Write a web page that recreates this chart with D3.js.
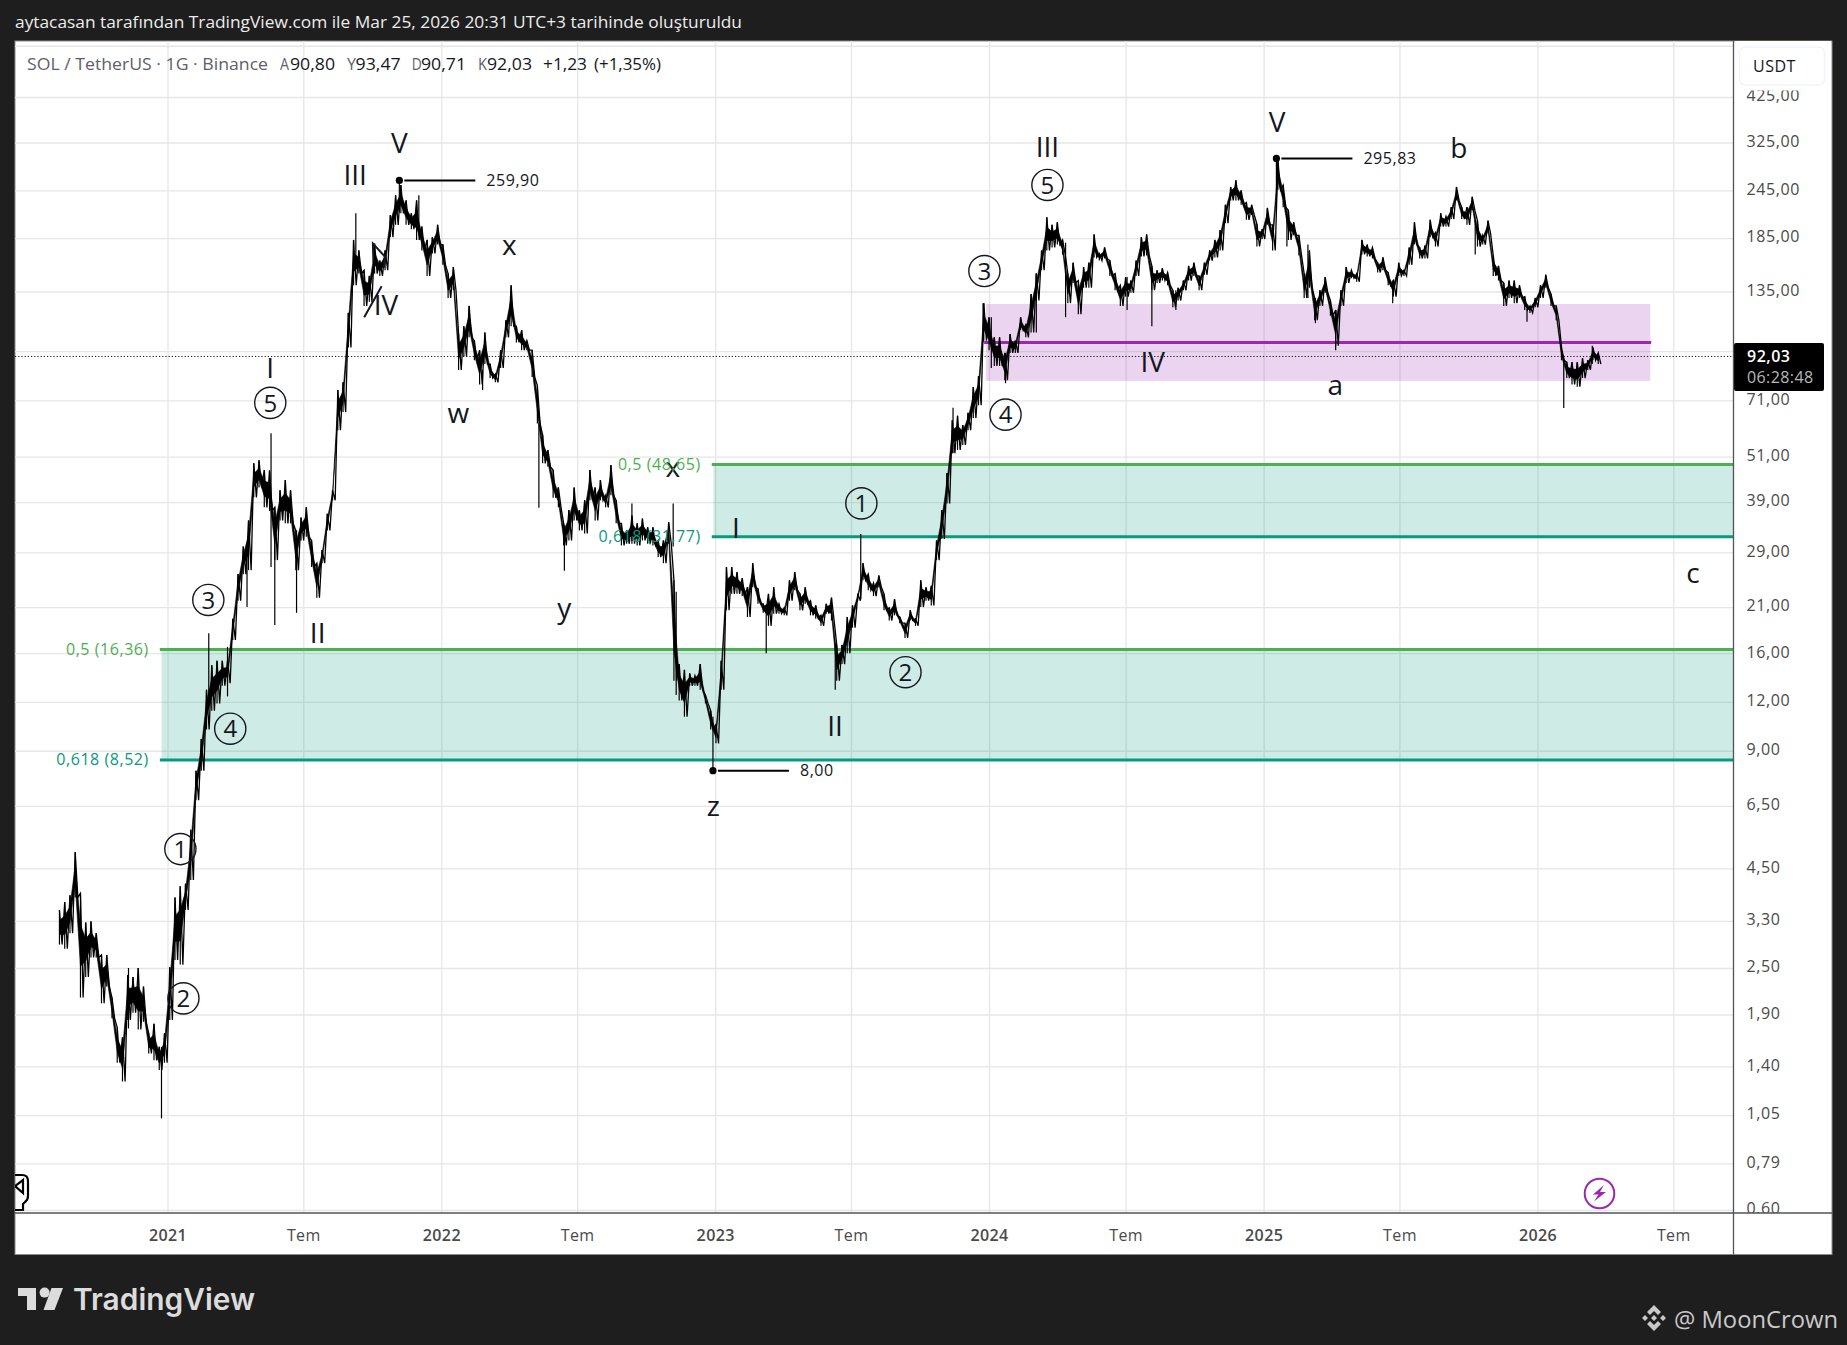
<!DOCTYPE html>
<html><head><meta charset="utf-8">
<script src="https://cdn.jsdelivr.net/npm/d3@7"></script>
<style>html,body{margin:0;padding:0;background:#1e1e1e}svg{display:block}</style></head>
<body><svg id="c" width="1847" height="1345"></svg>
<script>
// ---------- data ----------
const firstBarDate = "2020-08-10"; // one high/low pair per week from here on
const weeklyHigh = [
3.52,3.69,3.84,4.95,3.88,3.27,3.29,3.07,2.70,2.70,
2.10,1.76,1.66,2.40,2.37,2.50,2.24,1.70,1.80,1.57,
1.70,2.51,3.79,4.05,4.11,5.65,8.0,9.65,12.9,14.9,
15.3,15.3,15.3,19.6,25.5,30,35,49,49.9,47.1,
47,37.8,41.8,44.4,41.8,33,35.6,37.8,31.1,27.2,
29.4,36.4,41.8,75.5,79,119,183,172,153,148,
179,162,172,212,238,253,231,214,231,198,
183,186,200,178,150,156,105,110,124,101,
95.5,106,88,83,95.5,114,140,110,107.5,101,
95.5,77.5,58,53,47.1,42.5,34.4,37.2,42.5,37.2,
39.4,47.1,42.5,44.4,40.6,48.5,39.4,34.4,33,36,
34.4,35.4,33.6,33.6,31.1,31.1,34.6,24.6,15,14.5,
14.2,14,15,12.5,11.4,10.5,15.3,26.6,26.6,25.8,
24.9,23.6,27.2,23.4,21.4,22.7,23.6,21.4,20.9,24.6,
25.8,22.7,23.6,21.8,21.2,20,21.4,22.2,16.8,16.8,
19.8,21.2,22.7,27.2,25.5,24.2,25.3,22.7,20.9,22,
19.8,19.1,20.6,19.6,24.6,23.6,23.8,31.1,37.2,46.3,
63.2,64.9,61.4,66,76.9,82,126,116,103,103,
94,105,101,116,111,133,150,172,209,200,
203,183,150,160,144,156,160,189,169,175,
162,150,140,147,144,162,186,189,157,153,
155,151,136,138,144,157,160,148,160,172,
183,194,225,250,260,245,228,225,201,195,
221,200,293,253,218,203,188,150,172,130,
136,147,128,121,136,156,153,150,183,178,
175,160,165,151,144,160,153,175,203,175,
177,206,191,214,210,222,250,222,222,236,
205,188,205,167,157,142,144,144,140,131,
124,130,140,149,133,124,97,89,89,89,
91,90,97,94];
const weeklyLow = [
2.87,2.80,3.07,3.79,2.10,2.37,2.66,2.66,2.03,2.24,
1.86,1.43,1.28,1.84,1.92,1.74,1.82,1.51,1.45,1.37,
1.43,1.84,2.62,2.55,3.52,4.20,6.72,8.0,10.2,11.4,
11.9,13.2,13.4,17.3,21.8,25.5,26.1,40.1,42.5,37.8,
37,27.7,35,34.4,34.4,26.1,31.1,31.8,26.6,22.2,
27.2,33,39.4,59.6,66.3,97,140,150,124,127,
150,148,153,186,200,214,200,195,183,172,
148,169,178,158,130,136,85,92,103,90,
78,88,81,79,86,103,110,100,95.5,95.5,
81.5,62,49,48,40,37.8,30.2,31.1,35,33,
32.4,39.4,35,39.4,37.8,40.6,34.4,30.2,30.5,30.5,
30.2,31.1,30.5,30.2,28.2,27.2,30.5,13.6,12.1,11,
13.2,13.2,12.9,11.9,10.2,9.4,12.9,20.6,22.7,22.7,
22.4,19.8,23.6,21.4,20.3,18.8,20.2,20.2,20,21.8,
23.2,20.6,21.4,20,19.6,18.8,20.2,19.4,13.6,15,
16,18.6,21.8,24.6,23.2,22.4,23.6,20.6,19.4,20,
19.1,17.5,19.4,18.8,21,21.8,21.2,27.7,31.4,38.7,
52,53,54.6,59.6,64,69,101,95.5,87,87,
80,94,94,107.5,103,106,128,153,172,175,
178,168,126,142,118,138,138,165,162,164,
148,136,124,131,134,148,166,167,136,142,
144,140,123,128,136,144,148,136,149,162,
165,172,202,231,231,225,206,212,176,184,
200,172,246,222,183,188,167,130,138,114,
124,134,117,98,124,142,146,143,168,166,
164,151,153,140,131,148,148,158,178,164,
164,186,176,198,198,207,231,207,200,218,
176,178,190,148,144,124,130,126,130,121,
119,123,130,138,124,114,90,81,78,77,
81,85,90,88];
const wickDates = ["2020-11-10","2020-12-24","2021-02-25","2021-03-22","2021-04-17","2021-05-19","2021-05-24","2021-06-22","2021-09-09","2021-11-06","2021-12-02","2022-02-25","2022-05-11","2022-06-14","2022-09-12","2022-11-06","2022-11-10","2022-12-29","2023-03-10","2023-06-10","2023-07-14","2023-11-14","2023-12-24","2024-01-04","2024-01-23","2024-03-04","2024-04-12","2024-07-03","2024-08-05","2024-09-06","2025-01-18","2025-02-01","2025-03-01","2025-03-11","2025-04-07","2025-06-22","2025-10-10","2025-12-18","2026-02-05","2026-03-15"];
const wickHigh = [2.5,1.57,18,16.6,28,58.5,37,33,214,259.9,238,85,62,34,38.7,38.7,23,11,20.6,17,32.3,68,126,116,94,150,180,147,155,136,295.83,218,178,130,121,144,205,122,90,98];
const wickLow = [1.75,1.03,11.8,12.4,21,26.6,18.9,20.3,158,215,190,75.5,37.7,26,31,30,12.5,8.0,16,12.9,22,52,100,86,78.6,106,116,121,110,121,230,176,130,112,95.5,126,168,113,67.9,88];

const priceTicks = [575,425,325,245,185,135,95,71,51,39,29,21,16,12,9,6.5,4.5,3.3,2.5,1.9,1.4,1.05,0.79,0.6];
const hiddenPriceLabels = [575,95];
const timeTicks = ["2021-01-01","2021-07-01","2022-01-01","2022-07-01","2023-01-01","2023-07-01","2024-01-01","2024-07-01","2025-01-01","2025-07-01","2026-01-01","2026-07-01"];
const timeLabels = ["2021","Tem","2022","Tem","2023","Tem","2024","Tem","2025","Tem","2026","Tem"];

const lastPrice = 92.03;
const fibPrices = [16.36, 8.52, 48.65, 31.77];
const fibTexts = ["0,5 (16,36)","0,618 (8,52)","0,5 (48,65)","0,618 (31,77)"];
const fibStarts = [2020.972, 2020.972, 2022.986, 2022.986];
const purpleZone = [125.4, 79.7, 2023.987, 2026.411];
const purpleLine = [100, 2023.98, 2026.414];

const peakNotes = [["2021-11-06",259.90,"259,90"],["2025-01-18",295.83,"295,83"],["2022-12-29",8.00,"8,00"]];

const waveText = ["V","III","IV","x","w","y","x","I","z","I","II","II","III","IV","V","a","b","c"];
const waveYear = [2021.846,2021.685,2021.797,2022.247,2022.061,2022.448,2022.844,2023.074,2022.992,2021.375,2021.548,2023.436,2024.211,2024.595,2025.049,2025.261,2025.712,2026.567];
const wavePrice = [323.5,268,125,175,65,20.6,47.3,33.5,6.4,86,18,10.4,316,89,368,76.5,314,25.2];

const circleText = ["1","2","3","4","5","1","2","3","4","5"];
const circleYear = [2021.047,2021.058,2021.149,2021.229,2021.375,2023.532,2023.693,2023.981,2024.058,2024.211];
const circlePrice = [5.04,2.09,21.9,10.25,70,38.7,14.3,152.3,65.3,253];

const legendTexts = ["SOL / TetherUS · 1G · Binance","A","90,80","Y","93,47","D","90,71","K","92,03","+1,23","(+1,35%)"];

// ---------- layout ----------
const L=15, T=41, PR=1733.5, PB=1213, R=1832, B=1254.5;
const FONT='"Open Sans",sans-serif';
const svg=d3.select("#c");
const x=d3.scaleUtc().domain([new Date("2021-01-01"),new Date("2026-01-01")]).range([167.5,1537.5]);
const y=d3.scaleLog().domain([325,0.6]).range([142.5,1210]);
const yrDate=v=>new Date(Date.UTC(2021,0,1)+(v-2021)*365.25*864e5);
const X=v=>x(yrDate(v));
const comma=v=>d3.format(".2f")(v).replace(".",",");

svg.append("rect").attr("width",1847).attr("height",1345).attr("fill","#1e1e1e");
svg.append("rect").attr("x",L).attr("y",T).attr("width",R-L).attr("height",B-T).attr("fill","#fff").attr("stroke","#8a8a8a").attr("stroke-width",1);
const defs=svg.append("defs");
defs.append("clipPath").attr("id","pane").append("rect").attr("x",L).attr("y",T).attr("width",PR-L).attr("height",PB-T);
defs.append("clipPath").attr("id","scale").append("rect").attr("x",PR).attr("y",T).attr("width",R-PR).attr("height",PB-T);

// title bar
svg.append("text").attr("x",15).attr("y",28).attr("fill","#ececec").attr("font-family",FONT).attr("font-size",16).attr("textLength",727).attr("lengthAdjust","spacingAndGlyphs")
 .text("aytacasan tarafından TradingView.com ile Mar 25, 2026 20:31 UTC+3 tarihinde oluşturuldu");

const pane=svg.append("g").attr("clip-path","url(#pane)");

// grids via axes
const gridCol="#e6e6e6";
const gy=pane.append("g").attr("transform",`translate(${L},0)`).call(d3.axisRight(y).tickValues(priceTicks).tickSize(PR-L).tickFormat(""));
gy.select(".domain").remove(); gy.selectAll("line").attr("stroke",gridCol).attr("stroke-width",1.3);
const tickDates=timeTicks.map(d=>new Date(d));
const gx=pane.append("g").attr("transform",`translate(0,${T})`).call(d3.axisBottom(x).tickValues(tickDates).tickSize(PB-T).tickFormat(""));
gx.select(".domain").remove(); gx.selectAll("line").attr("stroke",gridCol).attr("stroke-width",1.3);

// fib zones
[[0,1],[2,3]].forEach(([a,b])=>{
  const xs=X(fibStarts[a]);
  pane.append("rect").attr("x",xs+1.7).attr("y",y(fibPrices[a])).attr("width",PR-xs).attr("height",y(fibPrices[b])-y(fibPrices[a])).attr("fill","#089981").attr("fill-opacity",0.2);
  [[a,"#4caf50"],[b,"#089981"]].forEach(([i,c])=>{
    pane.append("line").attr("x1",xs).attr("x2",PR).attr("y1",y(fibPrices[i])).attr("y2",y(fibPrices[i])).attr("stroke",c).attr("stroke-width",3);
    svg.append("text").attr("x",xs-11).attr("y",y(fibPrices[i])).attr("dy","0.33em").attr("text-anchor","end").attr("fill",c).attr("font-family",FONT).attr("font-size",16).attr("letter-spacing",0.55).text(fibTexts[i]);
  });
});
// purple zone
pane.append("rect").attr("x",X(purpleZone[2])).attr("y",y(purpleZone[0])).attr("width",X(purpleZone[3])-X(purpleZone[2])).attr("height",y(purpleZone[1])-y(purpleZone[0])).attr("fill","#9c27b0").attr("fill-opacity",0.2);
pane.append("line").attr("x1",X(purpleLine[1])).attr("x2",X(purpleLine[2])).attr("y1",y(purpleLine[0])).attr("y2",y(purpleLine[0])).attr("stroke","#9c27b0").attr("stroke-width",3);

// last price line
pane.append("line").attr("x1",L).attr("x2",PR).attr("y1",y(lastPrice)).attr("y2",y(lastPrice)).attr("stroke","#131722").attr("stroke-width",1).attr("stroke-dasharray","1.2,2");

// price series: a thin solid core, then a saw-tooth through each week's high and low
const t0=new Date(firstBarDate).getTime();
const bars=weeklyHigh.map((h,i)=>({d:new Date(t0+i*7*864e5),h,l:weeklyLow[i]}));
const core=0.3;
pane.append("path").datum(bars).attr("fill","#000").attr("stroke","#000").attr("stroke-width",0.6)
 .attr("d",d3.area().x(d=>x(d.d)).y0(d=>y(d.l)+(y(d.h)-y(d.l))*core).y1(d=>y(d.h)-(y(d.h)-y(d.l))*core));
const saw=bars.flatMap(b=>[{d:b.d,v:b.h},{d:new Date(b.d.getTime()+3.5*864e5),v:b.l}]);
pane.append("path").datum(saw).attr("fill","none").attr("stroke","#000").attr("stroke-width",1.3).attr("stroke-linejoin","miter")
 .attr("d",d3.line().x(d=>x(d.d)).y(d=>y(d.v)));
pane.append("g").selectAll("line").data(bars).join("line")
 .attr("x1",d=>x(d.d)).attr("x2",d=>x(d.d)).attr("y1",d=>y(d.h)).attr("y2",d=>y(d.l)).attr("stroke","#000").attr("stroke-width",1.2);
pane.append("g").selectAll("line").data(wickDates).join("line")
 .attr("x1",d=>x(new Date(d))).attr("x2",d=>x(new Date(d)))
 .attr("y1",(d,i)=>y(wickHigh[i])).attr("y2",(d,i)=>y(wickLow[i]))
 .attr("stroke","#000").attr("stroke-width",1.2);

// peak notes
peakNotes.forEach(([d,p,t])=>{
  const px=x(new Date(d)), py=y(p);
  pane.append("circle").attr("cx",px).attr("cy",py).attr("r",3.6).attr("fill","#000");
  pane.append("line").attr("x1",px+5).attr("x2",px+76).attr("y1",py).attr("y2",py).attr("stroke","#000").attr("stroke-width",2);
  pane.append("text").attr("x",px+87).attr("y",py).attr("dy","0.35em").attr("fill","#131722").attr("font-family",FONT).attr("font-size",16).attr("letter-spacing",0.55).text(t);
});

// IV stray strokes, anchored to the IV label
const ivx=X(waveYear[2]), ivy=y(wavePrice[2]);
pane.append("path").attr("fill","none").attr("stroke","#131722").attr("stroke-width",2)
 .attr("d",`M${ivx-21.7},${ivy+12.7}L${ivx-4.3},${ivy-18.3}M${ivx-12.5},${ivy-42}L${ivx-13},${ivy-61}L${ivx-1},${ivy-48}L${ivx-2},${ivy-37}`);

// wave labels
const lowerGlyph=new Set(["x","w","y","z","a","c"]);
pane.append("g").selectAll("text").data(waveText).join("text")
 .attr("x",(d,i)=>X(waveYear[i])).attr("y",(d,i)=>y(wavePrice[i])).attr("dy",d=>lowerGlyph.has(d)?"0.26em":"0.36em").attr("text-anchor","middle")
 .attr("font-family",FONT).attr("font-size",28).attr("fill","#131722").text(d=>d);
const cg=pane.append("g").selectAll("g").data(circleText).join("g")
 .attr("transform",(d,i)=>`translate(${X(circleYear[i])},${y(circlePrice[i])})`);
cg.append("circle").attr("r",15.6).attr("fill","none").attr("stroke","#131722").attr("stroke-width",1.4);
cg.append("text").attr("text-anchor","middle").attr("dy","0.36em").attr("font-family",FONT).attr("font-size",24).attr("fill","#131722").text(d=>d);

// pin glyph + lightning
pane.append("path").attr("fill","none").attr("stroke","#000").attr("stroke-width",2.2)
 .attr("d","M14,1175H22Q28,1175 28,1181V1196Q28,1200 25,1202L23,1204V1210H14M15,1186L23,1180V1193Z");
pane.append("circle").attr("cx",1599.5).attr("cy",1193.5).attr("r",14.8).attr("fill","none").attr("stroke","#9c27b0").attr("stroke-width",2);
pane.append("path").attr("fill","#9c27b0").attr("d","M1604,1185L1593,1194.5H1598.5L1594,1201.5L1606,1192H1600Z");

// price scale
const scale=svg.append("g").attr("clip-path","url(#scale)");
const ya=scale.append("g").attr("transform",`translate(${PR},0)`).call(d3.axisRight(y).tickValues(priceTicks).tickSize(0).tickPadding(13).tickFormat(v=>hiddenPriceLabels.includes(v)?"":comma(v)));
ya.select(".domain").remove();
ya.selectAll("text").attr("font-family",FONT).attr("font-size",16).attr("letter-spacing",0.6).attr("fill","#4a4a4a").attr("dy","0.24em");
scale.append("rect").attr("x",PR+1).attr("y",T).attr("width",R-PR-2).attr("height",49.5).attr("fill","#fff");
scale.append("rect").attr("x",1739.5).attr("y",47).attr("width",85).attr("height",38).attr("rx",6).attr("fill","#fff").attr("stroke","#f0f3fa").attr("stroke-width",1.5);
scale.append("text").attr("x",1753).attr("y",71.5).attr("font-family",FONT).attr("font-size",16).attr("letter-spacing",0.5).attr("fill","#131722").text("USDT");
// last price tag
scale.append("rect").attr("x",PR+0.5).attr("y",343).attr("width",90).attr("height",48).attr("rx",2).attr("fill","#000");
scale.append("text").attr("x",1747).attr("y",y(lastPrice)+5.5).attr("font-family",FONT).attr("font-size",16).attr("font-weight",600).attr("letter-spacing",0.5).attr("fill","#fff").text(comma(lastPrice));
scale.append("text").attr("x",1747).attr("y",y(lastPrice)+26.5).attr("font-family",FONT).attr("font-size",16).attr("letter-spacing",0.4).attr("fill","#b8b8b8").text("06:28:48");

// time axis
const xa=svg.append("g").attr("transform",`translate(0,${PB})`).call(d3.axisBottom(x).tickValues(tickDates).tickSize(0).tickPadding(14).tickFormat((d,i)=>timeLabels[i]));
xa.select(".domain").remove();
xa.selectAll("text").attr("font-family",FONT).attr("font-size",16).attr("letter-spacing",0.4).attr("fill","#4a4a4a").attr("font-weight",(d,i)=>timeLabels[i]==="Tem"?400:600).attr("dy","0.85em");

// frame lines
svg.append("line").attr("x1",L).attr("x2",R).attr("y1",PB).attr("y2",PB).attr("stroke","#50535e").attr("stroke-width",1.3);
svg.append("line").attr("x1",PR).attr("x2",PR).attr("y1",T).attr("y2",B).attr("stroke","#50535e").attr("stroke-width",1.3);

// legend line
const legX=[27,280,290,347,355.6,411.7,421,478,487,543,594];
const legW=[241,9,45,9,45,10,45,9,45,44,67];
const legC=["#5d606b","#5d606b","#131722","#5d606b","#131722","#5d606b","#131722","#5d606b","#131722","#131722","#131722"];
svg.append("g").selectAll("text").data(legendTexts).join("text")
 .attr("x",(d,i)=>legX[i]).attr("y",69.5).attr("font-family",FONT).attr("font-size",16).attr("fill",(d,i)=>legC[i])
 .attr("textLength",(d,i)=>legW[i]).attr("lengthAdjust","spacingAndGlyphs").text(d=>d);

// footer logo
const foot="#dcdcdc";
svg.append("path").attr("fill",foot).attr("d","M18,1288H36V1310H27V1296H18ZM51.5,1288H63L54.5,1310H43.5Z");
svg.append("circle").attr("cx",44.6).attr("cy",1292.6).attr("r",5).attr("fill",foot);
svg.append("text").attr("x",73).attr("y",1310).attr("font-family",'Inter,"Noto Sans",sans-serif').attr("font-weight",600).attr("font-size",30).attr("fill",foot).attr("textLength",182).attr("lengthAdjust","spacingAndGlyphs").text("TradingView");

// watermark
const wm="#c9c9c9";
svg.append("path").attr("fill",wm).attr("d","M1654,1305L1661,1312L1658,1315L1654,1311L1650,1315L1647,1312ZM1642,1318L1645,1315L1648,1318L1645,1321ZM1660,1318L1663,1315L1666,1318L1663,1321ZM1654,1315L1657,1318L1654,1321L1651,1318ZM1647,1324L1650,1321L1654,1325L1658,1321L1661,1324L1654,1331Z");
svg.append("text").attr("x",1674).attr("y",1327.5).attr("font-family",FONT).attr("font-size",24).attr("fill",wm).attr("textLength",164).attr("lengthAdjust","spacingAndGlyphs").text("@ MoonCrown");
</script></body></html>
